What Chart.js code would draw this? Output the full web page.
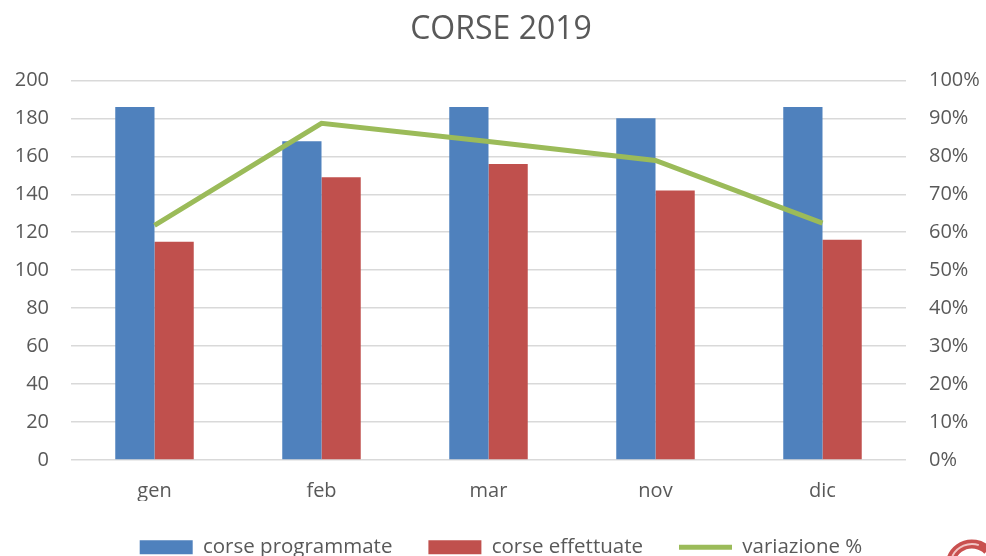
<!DOCTYPE html>
<html>
<head>
<meta charset="utf-8">
<script src="https://cdn.jsdelivr.net/npm/chart.js@4"></script>
<style>
  html, body { margin: 0; padding: 0; background: #fff; }
  #wrap { width: 986px; height: 556px; }
</style>
</head>
<body>
<div id="wrap"><canvas id="myChart" width="986" height="556"></canvas></div>
<script>
var mesi = ['gen', 'feb', 'mar', 'nov', 'dic'];
var programmate = [186, 168, 186, 180, 186];
var effettuate = [115, 149, 156, 142, 116];
var variazione = [61.8, 88.7, 83.9, 78.9, 62.4];

var grigio = '#595959';
var font = 'Open Sans';

// piccolo logo rosso in basso a destra
var logo = {
  id: 'logo',
  afterDraw: function(chart) {
    var c = chart.ctx;
    c.save();
    c.lineWidth = 9;
    c.strokeStyle = '#c9504f';
    c.beginPath();
    c.arc(972, 566, 22, Math.PI * 1.05, Math.PI * 1.75);
    c.stroke();
    c.lineWidth = 2;
    c.strokeStyle = '#f2c6c5';
    c.beginPath();
    c.arc(972, 566, 22, Math.PI * 1.15, Math.PI * 1.6);
    c.stroke();
    c.restore();
  }
};

function one() {
  var ctx = document.getElementById('myChart').getContext('2d');
  var config = {
    type: 'bar',
    data: {
      labels: mesi,
      datasets: [{
        label: 'corse programmate',
        data: programmate,
        backgroundColor: '#4f81bd',
        barPercentage: 1,
        categoryPercentage: 0.47,
        yAxisID: 'y',
        order: 1
      }, {
        label: 'corse effettuate',
        data: effettuate,
        backgroundColor: '#c0504d',
        barPercentage: 1,
        categoryPercentage: 0.47,
        yAxisID: 'y',
        order: 1
      }, {
        type: 'line',
        label: 'variazione %',
        data: variazione,
        borderColor: '#9bbb59',
        backgroundColor: '#9bbb59',
        borderWidth: 5,
        pointRadius: 0,
        tension: 0,
        yAxisID: 'y1',
        order: 0
      }]
    },
    options: {
      responsive: false,
      animation: false,
      layout: { padding: { left: 0, right: -16, top: 0, bottom: 0 } },
      plugins: {
        title: {
          display: true,
          text: 'CORSE 2019',
          color: grigio,
          font: { family: font, size: 32, weight: 'normal' },
          padding: { top: 11, bottom: 31 }
        },
        legend: {
          position: 'bottom',
          maxHeight: 55,
          labels: {
            color: grigio,
            font: { family: font, size: 20.5 },
            usePointStyle: true,
            pointStyleWidth: 53,
            boxHeight: 14,
            padding: 36,
            generateLabels: function(chart) {
              var items = Chart.defaults.plugins.legend.labels.generateLabels(chart);
              items.sort(function(a, b) { return a.datasetIndex - b.datasetIndex; });
              items.forEach(function(it) {
                if (it.datasetIndex == 2) {
                  it.pointStyle = 'line';
                  it.lineWidth = 5;
                  it.strokeStyle = '#9bbb59';
                } else {
                  it.pointStyle = 'rect';
                  it.lineWidth = 0;
                }
              });
              return items;
            }
          }
        },
        tooltip: { enabled: false }
      },
      scales: {
        x: {
          grid: { display: false },
          border: { display: false },
          ticks: { color: grigio, font: { family: font, size: 20 }, padding: 11 },
          afterFit: function(s) { s.height = 41; }
        },
        y: {
          position: 'left',
          min: 0,
          max: 200,
          ticks: { stepSize: 20, color: grigio, font: { family: font, size: 20 }, padding: 22 },
          grid: { color: '#d9d9d9', lineWidth: 1.5, drawTicks: false },
          border: { display: false },
          afterFit: function(s) { s.width = 71; }
        },
        y1: {
          position: 'right',
          min: 0,
          max: 100,
          ticks: {
            stepSize: 10,
            color: grigio,
            font: { family: font, size: 20 },
            padding: 23,
            callback: function(v) { return v + '%'; }
          },
          grid: { drawOnChartArea: false, drawTicks: false },
          border: { display: false },
          afterFit: function(s) { s.width = 96; }
        }
      }
    },
    plugins: [logo]
  };
  var myChart = new Chart(ctx, config);
}

window.onload = function() {
  one();
};
</script>
</body>
</html>
